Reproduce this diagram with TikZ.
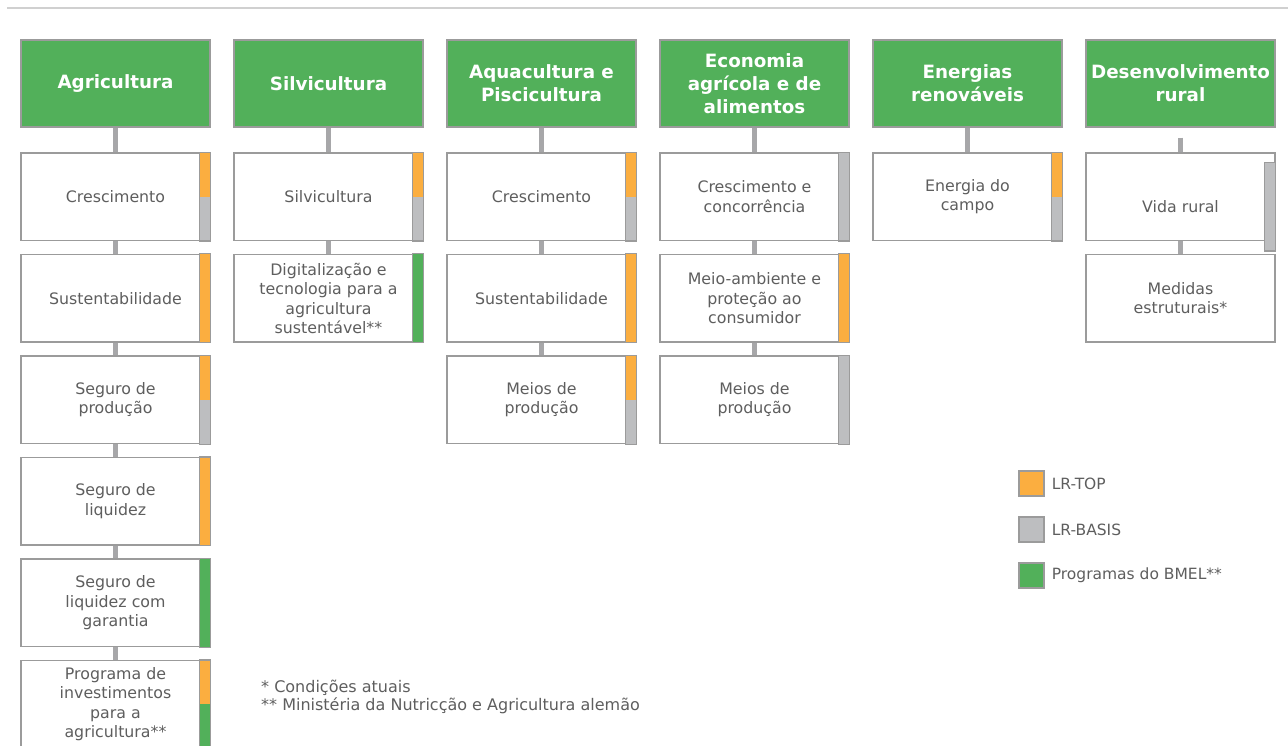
\documentclass[tikz,border=0pt]{standalone}
\usepackage{fontspec}
\setmainfont{DejaVu Sans}
\usetikzlibrary{positioning}

\definecolor{bmelgreen}{HTML}{52B05A}
\definecolor{lrtop}{HTML}{FBAE40}
\definecolor{lrbasis}{HTML}{BDBEC0}
\definecolor{linegray}{HTML}{9B9B9B}
\definecolor{linkgray}{HTML}{A7A7A9}
\definecolor{rulegray}{HTML}{D0D0D0}
\definecolor{textgray}{HTML}{5E5E5E}

% faixa colorida na borda direita de uma caixa
\newcommand{\lrbar}[3]{%
  \fill[#2] ([xshift=-11pt]#1.north east) rectangle (#1.east);
  \fill[#3] ([xshift=-11pt]#1.east) rectangle (#1.south east);
  \draw[linegray, line width=1.2pt] ([xshift=-11pt]#1.north east) rectangle (#1.south east);
}

\begin{document}
\begin{tikzpicture}[
    x=1pt, y=1pt,
    node distance=213pt,
    area/.style={rectangle, draw=linegray, line width=1.2pt, fill=bmelgreen, text=white, font=\fontsize{18.3}{23}\selectfont\bfseries, align=center, minimum width=189pt, minimum height=87pt, inner sep=0pt},
    item/.style={rectangle, draw=linegray, line width=1.2pt, fill=white, text=textgray, font=\fontsize{15.8}{19.5}\selectfont, align=center, minimum width=189pt, minimum height=87.5pt, inner sep=0pt},
    link/.style={linkgray, line width=4.5pt},
    legend/.style={rectangle, draw=linegray, line width=1.2pt, minimum size=25pt, inner sep=0pt},
    legtext/.style={text=textgray, font=\fontsize{15.5}{19}\selectfont, inner sep=0pt, anchor=west},
    note/.style={text=textgray, font=\fontsize{16}{18}\selectfont, inner sep=0pt, anchor=base west}
]
\useasboundingbox (0,0) rectangle (1288,-746);
\draw[rulegray, line width=2pt] (7,-8) -- (1288,-8);

% áreas
\node[area] (agri) at (115.5,-83.5) {Agricultura};
\node[area, right of=agri] (silvi) {Silvicultura};
\node[area, right of=silvi] (aqua) {Aquacultura e\\Piscicultura};
\node[area, right of=aqua] (econ) {Economia\\agrícola e de\\alimentos};
\node[area, right of=econ] (ener) {Energias\\renováveis};
\node[area, right of=ener] (desen) {Desenvolvimento\\rural};

% Agricultura
\node[item, below of=agri, node distance=113.25pt] (agri1) {Crescimento};
\node[item, below of=agri1, node distance=101.5pt] (agri2) {Sustentabilidade};
\node[item, below of=agri2, node distance=101.5pt] (agri3) {Seguro de\\produção};
\node[item, below of=agri3, node distance=101.5pt] (agri4) {Seguro de\\liquidez};
\node[item, below of=agri4, node distance=101.5pt] (agri5) {Seguro de\\liquidez com\\garantia};
\node[item, below of=agri5, node distance=101.5pt] (agri6) {Programa de\\investimentos\\para a\\agricultura**};

% Silvicultura
\node[item, below of=silvi, node distance=113.25pt] (silvi1) {Silvicultura};
\node[item, below of=silvi1, node distance=101.5pt] (silvi2) {Digitalização e\\tecnologia para a\\agricultura\\sustentável**};

% Aquacultura
\node[item, below of=aqua, node distance=113.25pt] (aqua1) {Crescimento};
\node[item, below of=aqua1, node distance=101.5pt] (aqua2) {Sustentabilidade};
\node[item, below of=aqua2, node distance=101.5pt] (aqua3) {Meios de\\produção};

% Economia
\node[item, below of=econ, node distance=113.25pt] (econ1) {Crescimento e\\concorrência};
\node[item, below of=econ1, node distance=101.5pt] (econ2) {Meio-ambiente e\\proteção ao\\consumidor};
\node[item, below of=econ2, node distance=101.5pt] (econ3) {Meios de\\produção};

% Energias
\node[item, below of=ener, node distance=113.25pt] (ener1) {Energia do\\campo};

% Desenvolvimento rural
\node[item, below of=desen, node distance=113.25pt] (desen1) {\rule{0pt}{31.5pt}Vida rural};
\node[item, below of=desen1, node distance=101.5pt] (desen2) {Medidas\\estruturais*};
\coordinate (desentop) at ([yshift=-10pt]desen.south);

% ligações
\draw[link] (agri) -- (agri1);
\draw[link] (agri1) -- (agri2);
\draw[link] (agri2) -- (agri3);
\draw[link] (agri3) -- (agri4);
\draw[link] (agri4) -- (agri5);
\draw[link] (agri5) -- (agri6);
\draw[link] (silvi) -- (silvi1);
\draw[link] (silvi1) -- (silvi2);
\draw[link] (aqua) -- (aqua1);
\draw[link] (aqua1) -- (aqua2);
\draw[link] (aqua2) -- (aqua3);
\draw[link] (econ) -- (econ1);
\draw[link] (econ1) -- (econ2);
\draw[link] (econ2) -- (econ3);
\draw[link] (ener) -- (ener1);
\draw[link] (desentop) -- (desen1);
\draw[link] (desen1) -- (desen2);

% faixas
\lrbar{agri1}{lrtop}{lrbasis}
\lrbar{agri2}{lrtop}{lrtop}
\lrbar{agri3}{lrtop}{lrbasis}
\lrbar{agri4}{lrtop}{lrtop}
\lrbar{agri5}{bmelgreen}{bmelgreen}
\lrbar{agri6}{lrtop}{bmelgreen}
\lrbar{silvi1}{lrtop}{lrbasis}
\lrbar{silvi2}{bmelgreen}{bmelgreen}
\lrbar{aqua1}{lrtop}{lrbasis}
\lrbar{aqua2}{lrtop}{lrtop}
\lrbar{aqua3}{lrtop}{lrbasis}
\lrbar{econ1}{lrbasis}{lrbasis}
\lrbar{econ2}{lrtop}{lrtop}
\lrbar{econ3}{lrbasis}{lrbasis}
\lrbar{ener1}{lrtop}{lrbasis}
\draw[linegray, line width=1.2pt, fill=lrbasis] ([xshift=-11pt, yshift=-10pt]desen1.north east) rectangle ([yshift=-10pt]desen1.south east);

% legenda
\node[legend, fill=lrtop] (ltop) at (1031.5,-483.5) {};
\node[legend, fill=lrbasis, below of=ltop, node distance=46pt] (lbasis) {};
\node[legend, fill=bmelgreen, below of=lbasis, node distance=46pt] (lbmel) {};
\node[legtext, right=7pt of ltop] (ttop) {LR-TOP};
\node[legtext, right=7pt of lbasis] (tbasis) {LR-BASIS};
\node[legtext, right=7pt of lbmel] (tbmel) {Programas do BMEL**};

% notas
\node[note] (nota1) at (261,-692) {* Condições atuais};
\node[note] (nota2) at (261,-710) {** Ministéria da Nutricção e Agricultura alemão};
\end{tikzpicture}
\end{document}
